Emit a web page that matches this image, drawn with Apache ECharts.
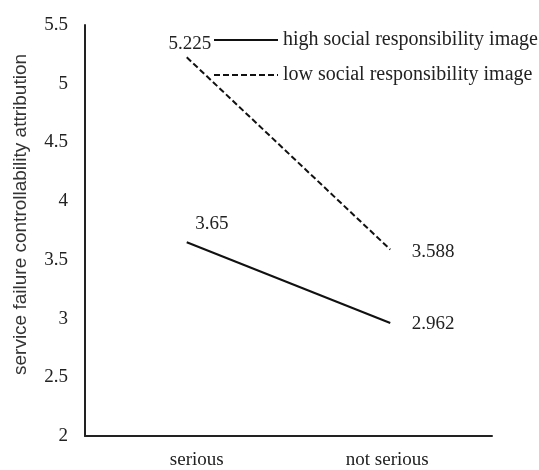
<!DOCTYPE html>
<html><head><meta charset="utf-8">
<script src="https://cdn.jsdelivr.net/npm/echarts@6/dist/echarts.min.js"></script>
<style>html,body{margin:0;padding:0;background:#fff}#c{width:539px;height:470px}</style>
</head><body><div id="c"></div>
<script>
const categories = ['serious', 'not serious'];
const seriesNames = ['high social responsibility image', 'low social responsibility image'];
const highValues = [3.65, 2.962];
const lowValues = [5.225, 3.588];
const yTicks = [2, 2.5, 3, 3.5, 4, 4.5, 5, 5.5];

const serif = 'Liberation Serif, Times New Roman, serif';
const lbl = {show: true, color: '#222', fontFamily: serif, fontSize: 19};

const chart = echarts.init(document.getElementById('c'), null, {renderer: 'canvas'});
chart.setOption({
  animation: false,
  backgroundColor: '#fff',
  grid: {left: 85, right: 47, top: 25, bottom: 33},
  legend: {
    orient: 'vertical', left: 208, top: 25, itemWidth: 64, itemHeight: 14, itemGap: 15,
    itemStyle: {opacity: 0},
    textStyle: {fontFamily: serif, fontSize: 20, color: '#222'},
    data: seriesNames
  },
  xAxis: {
    type: 'category',
    data: [
      {value: categories[0], textStyle: {padding: [0, 0, 0, 20]}},
      {value: categories[1], textStyle: {padding: [0, 6, 0, 0]}}
    ],
    boundaryGap: true,
    axisLine: {lineStyle: {color: '#222', width: 2}},
    axisTick: {show: false},
    axisLabel: {fontFamily: serif, fontSize: 19, color: '#222', margin: 15}
  },
  yAxis: {
    type: 'value', min: yTicks[0], max: yTicks[yTicks.length - 1], interval: 0.5,
    splitLine: {show: false},
    axisLine: {show: true, lineStyle: {color: '#222', width: 2}},
    axisTick: {show: false},
    axisLabel: {fontFamily: serif, fontSize: 19, color: '#222', margin: 17},
    name: 'service failure controllability attribution',
    nameLocation: 'middle', nameGap: 55,
    nameTextStyle: {fontFamily: 'Liberation Sans, Arial, sans-serif', fontSize: 19, color: '#333', padding: [0, 0, 0, 32]}
  },
  series: [
    {
      name: seriesNames[0], type: 'line', symbol: 'circle', symbolSize: 1, showSymbol: true,
      lineStyle: {color: '#111', width: 2, type: 'solid'}, itemStyle: {color: 'rgba(0,0,0,0)'},
      data: [
        {value: highValues[0], label: Object.assign({}, lbl, {position: 'top', offset: [25, -3]})},
        {value: highValues[1], label: Object.assign({}, lbl, {position: 'right', offset: [16, 1]})}
      ]
    },
    {
      name: seriesNames[1], type: 'line', symbol: 'circle', symbolSize: 1, showSymbol: true,
      lineStyle: {color: '#111', width: 2, type: [6, 3]}, itemStyle: {color: 'rgba(0,0,0,0)'},
      data: [
        {value: lowValues[0], label: Object.assign({}, lbl, {position: 'top', offset: [3, 2]})},
        {value: lowValues[1], label: Object.assign({}, lbl, {position: 'right', offset: [16, 2]})}
      ]
    }
  ]
});
</script></body></html>
